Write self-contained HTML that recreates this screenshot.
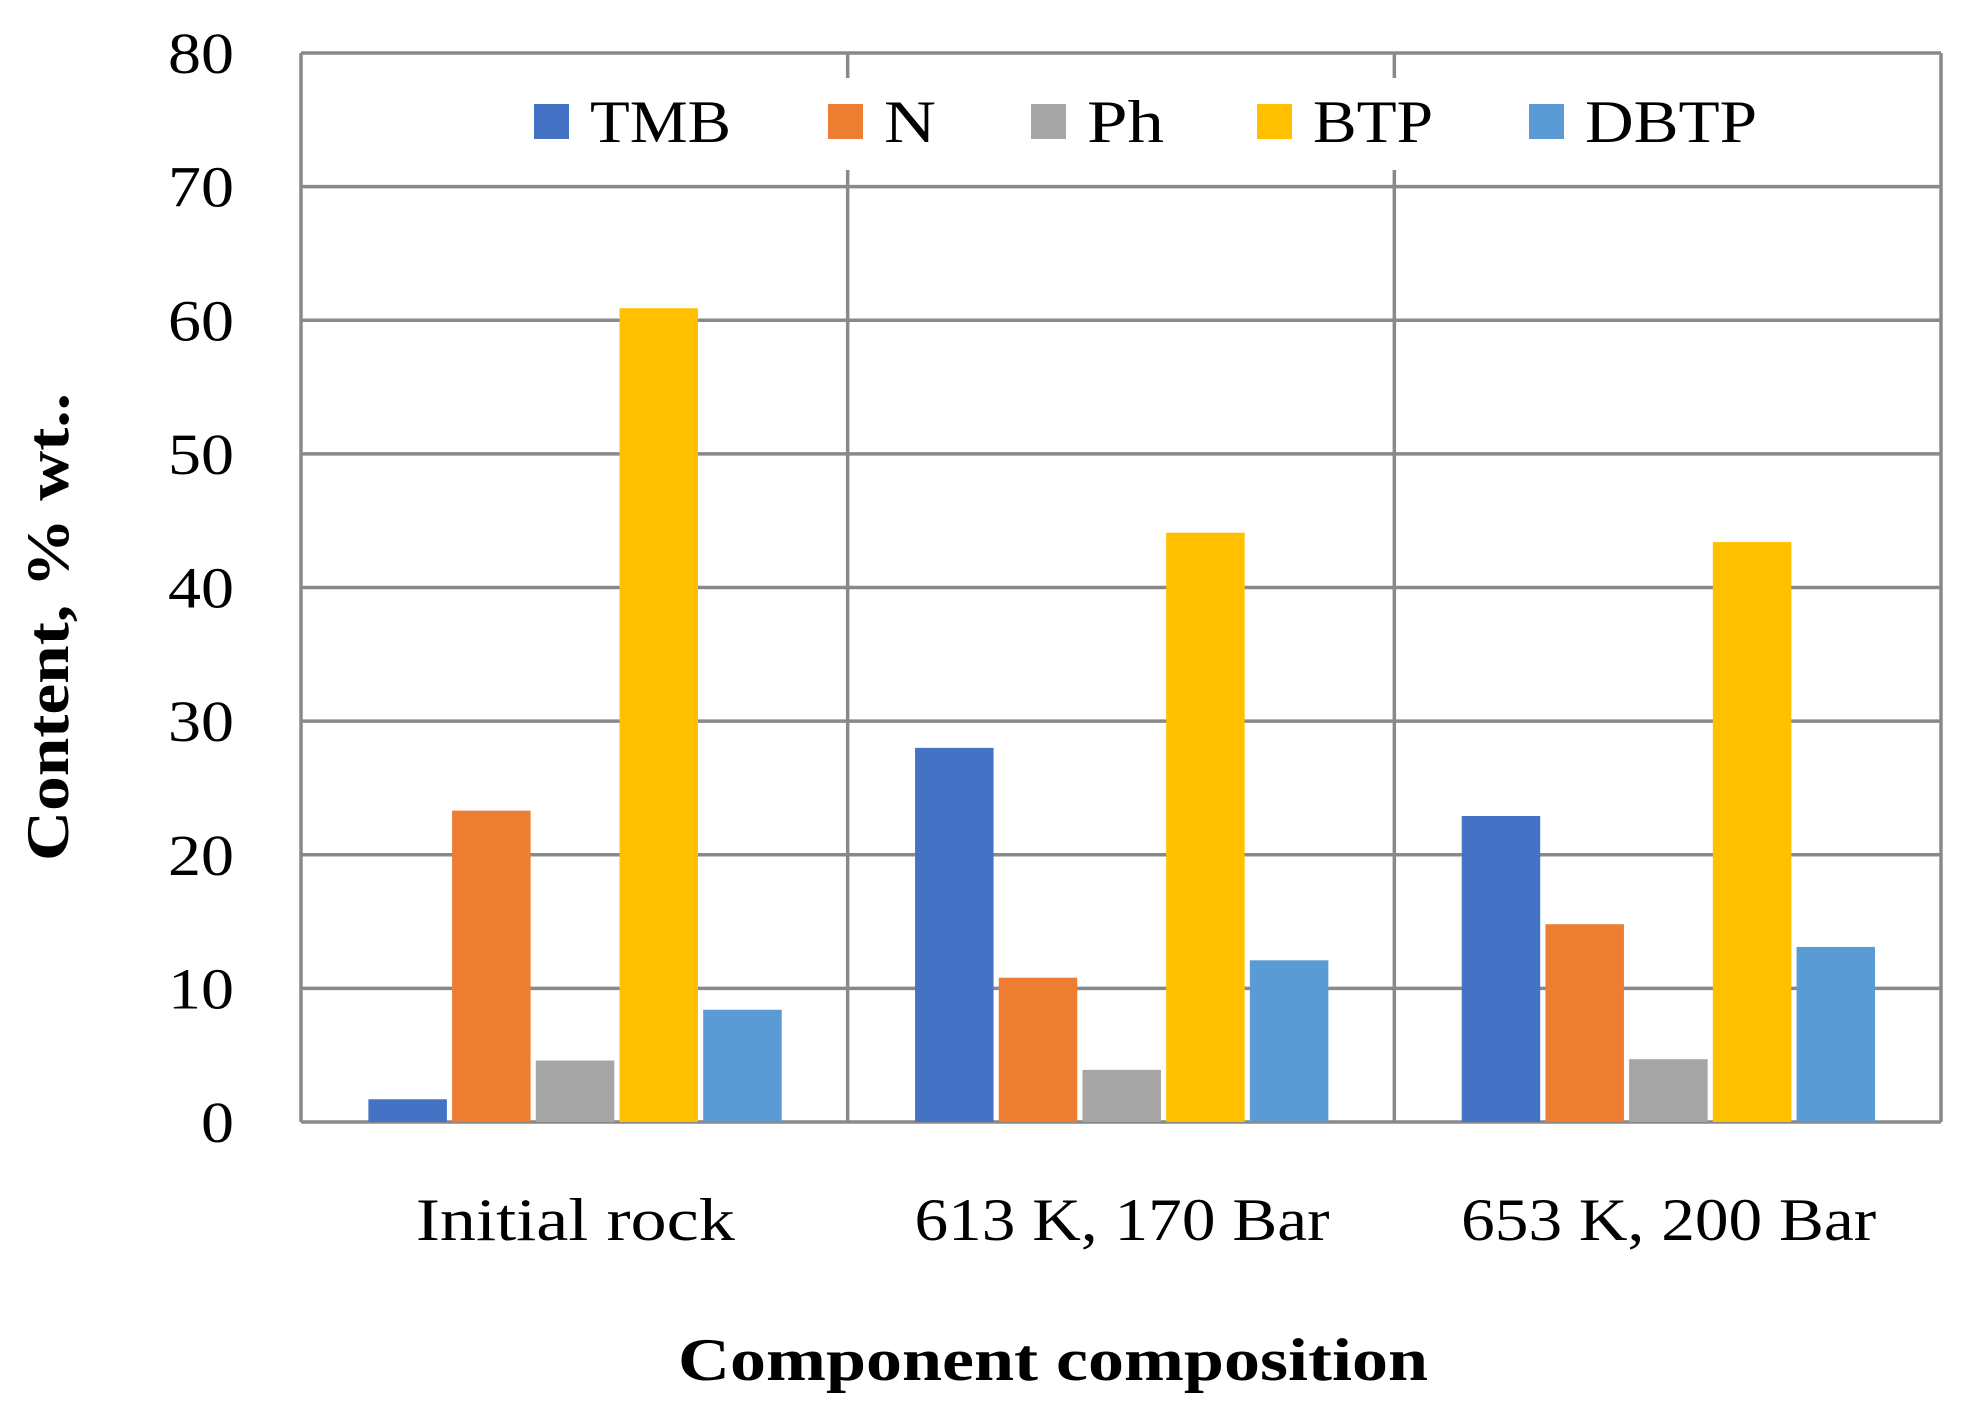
<!DOCTYPE html>
<html><head><meta charset="utf-8"><style>
html,body{margin:0;padding:0;background:#fff;}
svg text{font-family:"Liberation Serif",serif;fill:#000;}
</style></head><body>
<svg id="chart" width="1984" height="1411" xmlns="http://www.w3.org/2000/svg">
<rect width="1984" height="1411" fill="#fff"/>
<g id="grid"></g>
<g id="bars"></g>
<g id="ticks"></g>
<g id="cats"></g>
<rect x="515" y="78" width="1280" height="92" fill="#fff"/>
<g id="legend"></g>
<text x="1053" y="1380" font-size="60" font-weight="bold" text-anchor="middle" textLength="750" lengthAdjust="spacingAndGlyphs">Component composition</text>
<text transform="translate(68,627) rotate(-90)" font-size="60" font-weight="bold" text-anchor="middle" textLength="468" lengthAdjust="spacingAndGlyphs">Content, % wt..</text>
</svg>
<script>
const categories = ["Initial rock", "613 K, 170 Bar", "653 K, 200 Bar"];
const seriesNames = ["TMB", "N", "Ph", "BTP", "DBTP"];
const seriesColors = ["#4472c4", "#ed7d31", "#a5a5a5", "#ffc000", "#5b9bd5"];
const tmb = [1.7, 28.0, 22.9];
const nVals = [23.3, 10.8, 14.8];
const ph = [4.6, 3.9, 4.7];
const btp = [60.9, 44.1, 43.4];
const dbtp = [8.4, 12.1, 13.1];
const yTicks = [0, 10, 20, 30, 40, 50, 60, 70, 80];

const series = [tmb, nVals, ph, btp, dbtp];
const NS = "http://www.w3.org/2000/svg";
const L = 301, R = 1941, T = 53, B = 1122, yMax = 80;
const catW = (R - L) / categories.length;
const y = v => B - (v / yMax) * (B - T);
const xCat = i => L + i * catW;
function mk(tag, attrs, parent) {
  const e = document.createElementNS(NS, tag);
  for (const k in attrs) e.setAttribute(k, attrs[k]);
  document.getElementById(parent).appendChild(e);
  return e;
}
yTicks.forEach(t => {
  const g = mk("line", {x1: L, x2: R, y1: y(t), y2: y(t), stroke: "#898989", "stroke-width": 3.5}, "grid");
  
  
  const lb = mk("text", {x: 234, y: y(t) + 20, "font-size": 58, "text-anchor": "end", textLength: String(t).length * 33, lengthAdjust: "spacingAndGlyphs"}, "ticks");
  lb.textContent = t;
  
  
});
for (let i = 0; i <= categories.length; i++) {
  const v = mk("line", {x1: xCat(i), x2: xCat(i), y1: T, y2: B, stroke: "#898989", "stroke-width": 3.5}, "grid");
  
  
}
const bw = 78.5, step = 83.7, off = 67.4;
const catLen = [319, 415, 415];
categories.forEach((c, i) => {
  series.forEach((s, j) => {
    const x0 = xCat(i) + off + j * step;
    const r = mk("rect", {x: x0, y: y(s[i]), width: bw, height: B - y(s[i]), fill: seriesColors[j]}, "bars");
    
    
  });
  const t = mk("text", {x: xCat(i) + catW / 2 + 1, y: 1240, "font-size": 60, "text-anchor": "middle", textLength: catLen[i], lengthAdjust: "spacingAndGlyphs"}, "cats");
  t.textContent = c;
  
  
});
const legX = [534, 828, 1031, 1257, 1529];
const legLen = [141, 52, 77, 120, 172];
seriesNames.forEach((n, j) => {
  const sq = mk("rect", {x: legX[j], y: 104, width: 35, height: 35, fill: seriesColors[j]}, "legend");
  
  
  const t = mk("text", {x: legX[j] + 56, y: 142, "font-size": 60, textLength: legLen[j], lengthAdjust: "spacingAndGlyphs"}, "legend");
  t.textContent = n;
  
  
});
</script>
</body></html>
